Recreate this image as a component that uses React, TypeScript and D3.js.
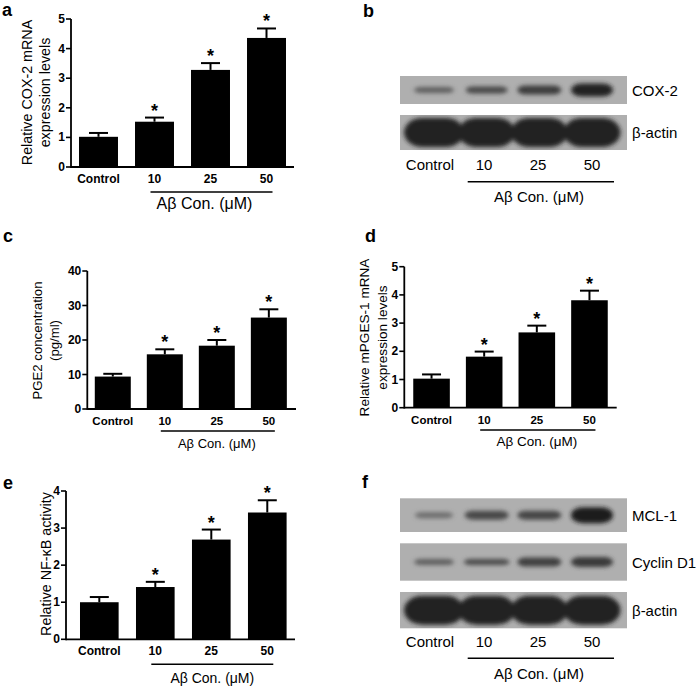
import React from 'react';
import * as d3 from 'd3';

const FONT = '"Liberation Sans", Arial, Helvetica, sans-serif';

// ---------- data ----------
const categories = ['Control', '10', '25', '50'];
const treatedLabel = 'Aβ Con. (μM)';
const significant = [false, true, true, true];

// a: Relative COX-2 mRNA
const cox2Mrna = [1.02, 1.53, 3.28, 4.36];
const cox2MrnaErr = [0.13, 0.14, 0.23, 0.32];
const cox2Ticks = [0, 1, 2, 3, 4, 5];

// c: PGE2 concentration
const pge2 = [9.4, 15.85, 18.35, 26.5];
const pge2Err = [0.8, 1.45, 1.65, 2.4];
const pge2Ticks = [0, 10, 20, 30, 40];

// d: Relative mPGES-1 mRNA
const mpges1 = [1.03, 1.81, 2.67, 3.81];
const mpges1Err = [0.15, 0.18, 0.24, 0.34];
const mpges1Ticks = [0, 1, 2, 3, 4, 5];

// e: Relative NF-kB activity
const nfkb = [1.0, 1.41, 2.69, 3.42];
const nfkbErr = [0.14, 0.14, 0.27, 0.33];
const nfkbTicks = [0, 1, 2, 3, 4];

// western blot band intensities (0..1), thickness and length (px)
const cox2Band = [0.55, 0.7, 0.78, 0.97];
const cox2BandH = [4, 5, 7, 11];
const cox2BandW = [40, 42, 44, 42];
const actinBand = [0.97, 0.97, 0.97, 0.97];
const actinBandH = [27, 27, 27, 27];
const actinBandW = [60, 57, 57, 57];
const mcl1Band = [0.45, 0.7, 0.72, 1.0];
const mcl1BandH = [4, 7, 7, 14];
const mcl1BandW = [38, 44, 44, 42];
const cyclinD1Band = [0.55, 0.68, 0.76, 0.8];
const cyclinD1BandH = [4, 4, 7, 8];
const cyclinD1BandW = [40, 46, 44, 42];

type BarProps = {
  values: number[];
  errors: number[];
  ticks: number[];
  x0: number;
  x1: number;
  yTop: number;
  yBottom: number;
  pi: number;
  po: number;
  align?: number;
  yLabel: string[];
  yLabelX: number[];
  yLabelCy: number;
  yLabelSize: number;
  catSize: number;
  underlineY: number;
  treatedY: number;
  treatedDx: number;
  treatedSize: number;
};

function BarPanel(p: BarProps) {
  const x = d3
    .scaleBand<string>()
    .domain(categories)
    .range([p.x0, p.x1])
    .paddingInner(p.pi)
    .paddingOuter(p.po)
    .align(p.align ?? 0.5);
  const yMax = p.ticks[p.ticks.length - 1];
  const y = d3.scaleLinear().domain([0, yMax]).range([p.yBottom, p.yTop]);
  const bw = x.bandwidth();
  const cx = (c: string) => (x(c) as number) + bw / 2;
  const capW = 19;
  return (
    <g fontFamily={FONT}>
      {categories.map((c, i) => (
        <rect key={c} x={x(c)} y={y(p.values[i])} width={bw} height={y(0) - y(p.values[i])} fill="#000" />
      ))}
      {categories.map((c, i) => {
        const top = y(p.values[i] + p.errors[i]);
        return (
          <g key={'e' + c} stroke="#000" strokeWidth={2}>
            <line x1={cx(c)} x2={cx(c)} y1={y(p.values[i])} y2={top} />
            <line x1={cx(c) - capW / 2} x2={cx(c) + capW / 2} y1={top} y2={top} />
          </g>
        );
      })}
      {categories.map((c, i) =>
        significant[i] ? (
          <text key={'s' + c} x={cx(c)} y={y(p.values[i] + p.errors[i]) - 1} textAnchor="middle" fontWeight="bold" fontSize={18}>
            *
          </text>
        ) : null
      )}
      {/* axes */}
      <line x1={p.x0} x2={p.x0} y1={p.yBottom + 0.9} y2={p.yTop} stroke="#000" strokeWidth={1.8} />
      <line x1={p.x0} x2={p.x1} y1={p.yBottom} y2={p.yBottom} stroke="#000" strokeWidth={1.8} />
      {p.ticks.map((t) => (
        <g key={'t' + t}>
          <line x1={p.x0 - 5} x2={p.x0} y1={y(t)} y2={y(t)} stroke="#000" strokeWidth={1.6} />
          <text x={p.x0 - 6} y={y(t)} textAnchor="end" dominantBaseline="central" fontWeight="bold" fontSize={12}>
            {t}
          </text>
        </g>
      ))}
      {categories.map((c) => (
        <text key={'l' + c} x={cx(c)} y={p.yBottom + 12} textAnchor="middle" dominantBaseline="central" fontWeight="bold" fontSize={p.catSize}>
          {c}
        </text>
      ))}
      <line x1={cx(categories[1]) - 4} x2={cx(categories[3]) + 6} y1={p.underlineY} y2={p.underlineY} stroke="#000" strokeWidth={1.5} />
      <text
        x={(cx(categories[1]) + cx(categories[3])) / 2 + p.treatedDx}
        y={p.treatedY}
        textAnchor="middle"
        dominantBaseline="central"
        fontSize={p.treatedSize}
      >
        {treatedLabel}
      </text>
      {p.yLabel.map((s, i) => (
        <text
          key={'y' + i}
          transform={`translate(${p.yLabelX[i]},${p.yLabelCy}) rotate(-90)`}
          textAnchor="middle"
          dominantBaseline="central"
          fontSize={p.yLabelSize}
        >
          {s}
        </text>
      ))}
    </g>
  );
}

type BlotRow = { label: string; y0: number; y1: number; intens: number[]; hs: number[]; ws: number[] };
type BlotProps = { rows: BlotRow[]; laneY: number; underlineY: number; treatedY: number; id: string };

function BlotPanel(p: BlotProps) {
  const boxX0 = 400;
  const boxX1 = 627;
  const lane = d3.scalePoint<string>().domain(categories).range([430, 592]);
  const bandX = d3.scalePoint<string>().domain(categories).range([434, 592]);
  const shade = d3.interpolateRgb('#adadad', '#1e1e1e');
  return (
    <g fontFamily={FONT}>
      <defs>
        <filter id={'blur' + p.id} x="-30%" y="-60%" width="160%" height="220%">
          <feGaussianBlur stdDeviation={2} />
        </filter>
        {p.rows.map((r, ri) => (
          <clipPath key={ri} id={`clip${p.id}${ri}`}>
            <rect x={boxX0} y={r.y0} width={boxX1 - boxX0} height={r.y1 - r.y0} />
          </clipPath>
        ))}
      </defs>
      {p.rows.map((r, ri) => {
        const cy = (r.y0 + r.y1) / 2;
        return (
          <g key={r.label}>
            <rect x={boxX0} y={r.y0} width={boxX1 - boxX0} height={r.y1 - r.y0} fill="#afafaf" />
            <g clipPath={`url(#clip${p.id}${ri})`}>
              <g filter={`url(#blur${p.id})`}>
                {categories.map((c, i) => {
                  const h = r.hs[i] + 2;
                  const w = r.ws[i];
                  return (
                    <rect
                      key={c}
                      x={(bandX(c) as number) - w / 2}
                      y={cy - h / 2}
                      width={w}
                      height={h}
                      rx={Math.min(w / 2, h / 2 + 4)}
                      ry={h / 2}
                      fill={shade(r.intens[i])}
                    />
                  );
                })}
              </g>
            </g>
            <text x={632} y={cy} dominantBaseline="central" fontSize={15}>
              {r.label}
            </text>
          </g>
        );
      })}
      {categories.map((c) => (
        <text key={c} x={lane(c)} y={p.laneY} textAnchor="middle" dominantBaseline="central" fontSize={15}>
          {c}
        </text>
      ))}
      <line x1={467.7} x2={614} y1={p.underlineY} y2={p.underlineY} stroke="#000" strokeWidth={1.5} />
      <text x={539} y={p.treatedY} textAnchor="middle" dominantBaseline="central" fontSize={15}>
        {treatedLabel}
      </text>
    </g>
  );
}

export default function App() {
  const panelLabel = (t: string, x: number, y: number) => (
    <text x={x} y={y} fontFamily={FONT} fontWeight="bold" fontSize={18}>
      {t}
    </text>
  );
  return (
    <div style={{ position: 'absolute', left: 0, top: 0 }}>
      <svg width={700} height={688} style={{ display: 'block', background: '#fff' }}>
        <rect width={700} height={688} fill="#fff" />
        {panelLabel('a', 2, 16)}
        {panelLabel('b', 363, 17)}
        {panelLabel('c', 3, 242)}
        {panelLabel('d', 365, 241.5)}
        {panelLabel('e', 3, 489)}
        {panelLabel('f', 362, 488)}

        <BarPanel
          values={cox2Mrna}
          errors={cox2MrnaErr}
          ticks={cox2Ticks}
          x0={71}
          x1={294}
          yTop={19}
          yBottom={167}
          pi={0.304}
          po={0.143}
          yLabel={['Relative COX-2 mRNA', 'expression levels']}
          yLabelX={[27, 45]}
          yLabelCy={92.5}
          yLabelSize={14.3}
          catSize={12}
          underlineY={192}
          treatedY={203}
          treatedDx={-6}
          treatedSize={16}
        />
        <BarPanel
          values={pge2}
          errors={pge2Err}
          ticks={pge2Ticks}
          x0={87.3}
          x1={296}
          yTop={271}
          yBottom={409}
          pi={0.308}
          po={0.16}
          align={0.45}
          yLabel={['PGE2 concentration', '(pg/ml)']}
          yLabelX={[37, 54]}
          yLabelCy={340.5}
          yLabelSize={13.2}
          catSize={11.5}
          underlineY={431}
          treatedY={443}
          treatedDx={0}
          treatedSize={13}
        />
        <BarPanel
          values={mpges1}
          errors={mpges1Err}
          ticks={mpges1Ticks}
          x0={404.3}
          x1={616.7}
          yTop={266.7}
          yBottom={407.7}
          pi={0.305}
          po={0.17}
          align={0.5}
          yLabel={['Relative mPGES-1 mRNA', 'expression levels']}
          yLabelX={[364, 382.3]}
          yLabelCy={337.5}
          yLabelSize={13.6}
          catSize={11.5}
          underlineY={430}
          treatedY={441}
          treatedDx={0}
          treatedSize={13.5}
        />
        <BarPanel
          values={nfkb}
          errors={nfkbErr}
          ticks={nfkbTicks}
          x0={66}
          x1={295}
          yTop={491}
          yBottom={639.3}
          pi={0.31}
          po={0.2}
          align={0.625}
          yLabel={['Relative NF-κB activity']}
          yLabelX={[46]}
          yLabelCy={564}
          yLabelSize={14.3}
          catSize={12}
          underlineY={664.3}
          treatedY={677.5}
          treatedDx={1}
          treatedSize={14}
        />

        <BlotPanel
          id="b"
          rows={[
            { label: 'COX-2', y0: 76, y1: 104, intens: cox2Band, hs: cox2BandH, ws: cox2BandW },
            { label: 'β-actin', y0: 115, y1: 150, intens: actinBand, hs: actinBandH, ws: actinBandW },
          ]}
          laneY={164}
          underlineY={181.7}
          treatedY={196}
        />
        <BlotPanel
          id="f"
          rows={[
            { label: 'MCL-1', y0: 498.3, y1: 532, intens: mcl1Band, hs: mcl1BandH, ws: mcl1BandW },
            { label: 'Cyclin D1', y0: 543.3, y1: 580.7, intens: cyclinD1Band, hs: cyclinD1BandH, ws: cyclinD1BandW },
            { label: 'β-actin', y0: 592, y1: 628.3, intens: actinBand, hs: actinBandH, ws: actinBandW },
          ]}
          laneY={641}
          underlineY={658.3}
          treatedY={673.3}
        />
      </svg>
    </div>
  );
}
